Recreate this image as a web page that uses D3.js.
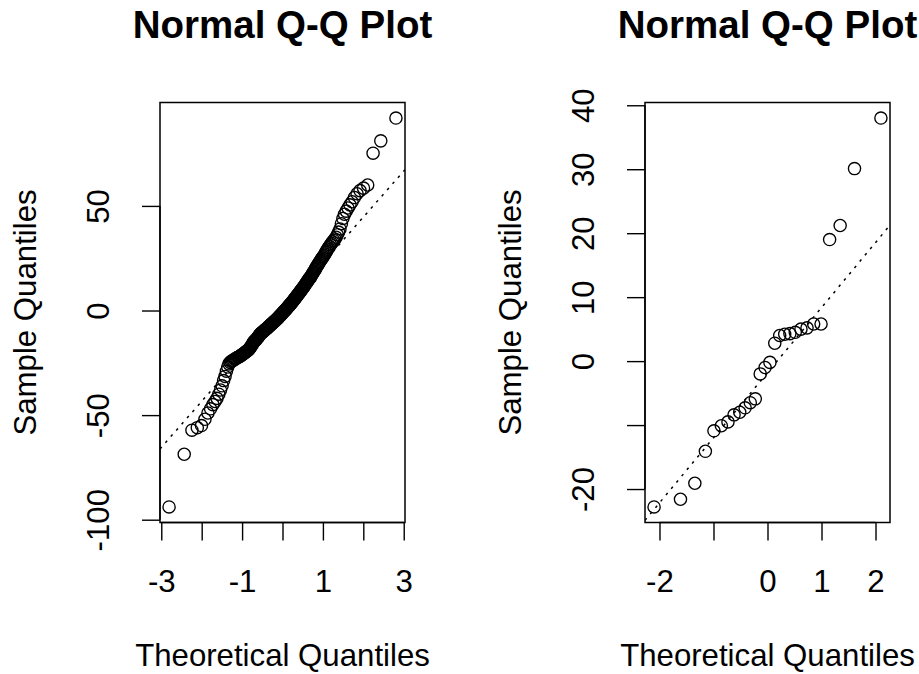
<!DOCTYPE html>
<html><head><meta charset="utf-8">
<script src="https://cdn.jsdelivr.net/npm/d3@7"></script>
<style>
html,body{margin:0;padding:0;background:#fff;}
svg text{font-family:"Liberation Sans",Arial,sans-serif;fill:#000;}
</style></head>
<body>
<svg id="chart" width="919" height="674"></svg>
<script>
// ---- data (sorted sample values) ----
const leftSample = [
-93.9,-68.7,-57.2,-56.0,-55.0,-52.0,-49.0,-47.0,-45.0,-43.5,
-42.0,-40.0,-38.0,-36.0,-33.5,-31.5,-29.0,-27.0,-25.5,-24.8,
-24.3,-24.0,-23.7,-23.3,-23.1,-22.7,-22.5,-22.3,-22.0,-21.8,
-21.4,-21.2,-20.9,-20.7,-20.3,-20.0,-19.8,-19.4,-19.2,-19.0,
-18.6,-18.1,-17.7,-17.3,-16.7,-16.2,-15.6,-15.1,-14.7,-14.4,
-14.2,-13.9,-13.4,-13.1,-12.7,-12.4,-11.9,-11.5,-11.2,-10.9,
-10.7,-10.4,-10.3,-10.0,-9.8,-9.5,-9.2,-9.1,-8.8,-8.6,
-8.4,-8.1,-7.9,-7.6,-7.4,-7.2,-7.0,-6.7,-6.4,-6.3,
-6.1,-5.8,-5.6,-5.3,-5.1,-4.9,-4.7,-4.4,-4.2,-4.0,
-3.7,-3.5,-3.2,-2.9,-2.7,-2.4,-2.2,-1.9,-1.6,-1.4,
-1.1,-0.8,-0.6,-0.3,0.0,0.2,0.5,0.8,1.0,1.3,
1.6,1.9,2.2,2.4,2.8,3.0,3.3,3.7,3.9,4.2,
4.5,4.9,5.2,5.5,5.8,6.2,6.5,6.9,7.2,7.5,
7.9,8.2,8.6,8.9,9.3,9.7,10.0,10.4,10.7,11.1,
11.5,11.9,12.3,12.8,13.2,13.6,14.1,14.5,15.0,15.4,
15.6,16.1,16.6,17.2,17.7,18.3,18.8,19.4,19.9,20.5,
21.1,21.7,22.2,22.8,23.4,24.0,24.6,25.1,25.7,26.3,
27.0,27.8,28.5,29.3,30.0,30.7,31.4,32.1,32.8,33.5,
34.2,35.0,36.2,37.5,39.0,41.5,44.0,46.0,47.5,49.0,
50.5,52.0,54.0,55.8,57.3,58.5,60.0,75.2,81.1,92.0
];
const rightSample = [
-22.8,-21.6,-19.1,-14.1,-10.9,-10.1,-9.5,-8.4,-8.0,-7.3,
-6.5,-5.9,-2.0,-1.0,-0.2,2.8,4.0,4.2,4.3,4.5,
5.0,5.2,5.8,5.8,19.0,21.2,30.1,38.0
];
const titleText = "Normal Q-Q Plot";
const xTitleText = "Theoretical Quantiles";
const yTitleText = "Sample Quantiles";
const leftXTicks = [-3,-2,-1,0,1,2,3];
const leftXLabels = [-3,-1,1,3];
const leftYTicks = [-100,-50,0,50];
const leftYLabels = [-100,-50,0,50];
const rightXTicks = [-2,-1,0,1,2];
const rightXLabels = [-2,0,1,2];
const rightYTicks = [-20,-10,0,10,20,30,40];
const rightYLabels = [-20,0,10,20,30,40];

// ---- normal quantile function (for theoretical quantiles) ----
function qnorm(p){
  const a=[-3.969683028665376e+01,2.209460984245205e+02,-2.759285104469687e+02,1.383577518672690e+02,-3.066479806614716e+01,2.506628277459239e+00];
  const b=[-5.447609879822406e+01,1.615858368580409e+02,-1.556989798598866e+02,6.680131188771972e+01,-1.328068155288572e+01];
  const c=[-7.784894002430293e-03,-3.223964580411365e-01,-2.400758277161838e+00,-2.549732539343734e+00,4.374664141464968e+00,2.938163982698783e+00];
  const d=[7.784695709041462e-03,3.224671290700398e-01,2.445134137142996e+00,3.754408661907416e+00];
  const pl=0.02425, ph=1-pl; let q,r;
  if(p<pl){q=Math.sqrt(-2*Math.log(p));return (((((c[0]*q+c[1])*q+c[2])*q+c[3])*q+c[4])*q+c[5])/((((d[0]*q+d[1])*q+d[2])*q+d[3])*q+1);}
  if(p<=ph){q=p-0.5;r=q*q;return (((((a[0]*r+a[1])*r+a[2])*r+a[3])*r+a[4])*r+a[5])*q/(((((b[0]*r+b[1])*r+b[2])*r+b[3])*r+b[4])*r+1);}
  q=Math.sqrt(-2*Math.log(1-p));return -(((((c[0]*q+c[1])*q+c[2])*q+c[3])*q+c[4])*q+c[5])/((((d[0]*q+d[1])*q+d[2])*q+d[3])*q+1);
}
function ppoints(n){const a=n<=10?3/8:1/2;return d3.range(1,n+1).map(i=>(i-a)/(n+1-2*a));}
function ext(lo,hi){const r=hi-lo;return [lo-0.04*r,hi+0.04*r];}

const svg = d3.select("#chart");
svg.append("rect").attr("width",919).attr("height",674).attr("fill","#fff");

const FS = 31.2, TFS = 38.5, TICK = 18;

function panel(cfg, idx){
  const {sample, box, xTicks, xLabels, yTicks, yLabels} = cfg;
  const ys = sample.slice().sort(d3.ascending);
  const n = ys.length;
  const xs = ppoints(n).map(qnorm);
  const pts = xs.map((x,i)=>({x, y: ys[i]}));
  const x = d3.scaleLinear().domain(ext(xs[0], xs[n-1])).range([box.l, box.r]);
  const y = d3.scaleLinear().domain(ext(ys[0], ys[n-1])).range([box.b, box.t]);
  const g = svg.append("g");

  const cid = "clip"+idx;
  g.append("clipPath").attr("id",cid).append("rect")
    .attr("x",box.l).attr("y",box.t).attr("width",box.r-box.l).attr("height",box.b-box.t);

  // qqline through quartiles
  const yq = [d3.quantileSorted(ys,0.25), d3.quantileSorted(ys,0.75)];
  const xq = [qnorm(0.25), qnorm(0.75)];
  const slope = (yq[1]-yq[0])/(xq[1]-xq[0]);
  const icpt = yq[0]-slope*xq[0];
  const [dx0,dx1] = x.domain();
  g.append("line").attr("clip-path",`url(#${cid})`)
    .attr("x1",x(dx0)).attr("y1",y(icpt+slope*dx0))
    .attr("x2",x(dx1)).attr("y2",y(icpt+slope*dx1))
    .attr("stroke","#000").attr("stroke-width",1.5).attr("stroke-dasharray","2.6,5.6");

  // points
  g.selectAll("circle.pt").data(pts).join("circle").attr("class","pt")
    .attr("cx",d=>x(d.x)).attr("cy",d=>y(d.y)).attr("r",6.1)
    .attr("fill","none").attr("stroke","#000").attr("stroke-width",1.35);

  // box
  g.append("rect").attr("x",box.l).attr("y",box.t).attr("width",box.r-box.l).attr("height",box.b-box.t)
    .attr("fill","none").attr("stroke","#000").attr("stroke-width",1.5);

  // x axis
  const xa = g.append("g").attr("transform",`translate(0,${box.b})`)
    .call(d3.axisBottom(x).tickValues(xTicks).tickSize(TICK).tickSizeOuter(0).tickPadding(29.5)
      .tickFormat(v=>xLabels.includes(v)?String(v):""));
  xa.select(".domain").remove();
  xa.selectAll("line").attr("stroke","#000").attr("stroke-width",1.4);
  xa.selectAll("text").attr("font-size",FS).attr("font-family","'Liberation Sans',Arial,sans-serif").attr("fill","#000");
  xa.append("line").attr("x1",x(xTicks[0])).attr("x2",x(xTicks[xTicks.length-1])).attr("stroke","#000").attr("stroke-width",1.4);

  // y axis
  const ya = g.append("g").attr("transform",`translate(${box.l},0)`)
    .call(d3.axisLeft(y).tickValues(yTicks).tickSize(TICK).tickSizeOuter(0)
      .tickFormat(v=>yLabels.includes(v)?String(v):""));
  ya.select(".domain").remove();
  ya.selectAll("line").attr("stroke","#000").attr("stroke-width",1.4);
  ya.selectAll("text").attr("font-size",FS).attr("font-family","'Liberation Sans',Arial,sans-serif").attr("fill","#000")
    .attr("x",0).attr("dy",0).attr("text-anchor","middle")
    .attr("transform","translate(-51.5,0) rotate(-90)");
  ya.append("line").attr("y1",y(yTicks[0])).attr("y2",y(yTicks[yTicks.length-1])).attr("stroke","#000").attr("stroke-width",1.4);

  const cx = (box.l+box.r)/2, cy = (box.t+box.b)/2;
  g.append("text").attr("x",cx).attr("y",37.5).attr("text-anchor","middle")
    .attr("font-size",TFS).attr("font-weight","bold").text(titleText);
  g.append("text").attr("x",cx).attr("y",666).attr("text-anchor","middle")
    .attr("font-size",FS).text(xTitleText);
  g.append("text").attr("transform",`translate(${box.l-124},${cy}) rotate(-90)`).attr("text-anchor","middle")
    .attr("font-size",FS).text(yTitleText);
}

panel({sample:leftSample, box:{l:160,r:405,t:102.5,b:522.5},
  xTicks:leftXTicks, xLabels:leftXLabels, yTicks:leftYTicks, yLabels:leftYLabels}, 0);
panel({sample:rightSample, box:{l:645,r:890,t:102.5,b:522.5},
  xTicks:rightXTicks, xLabels:rightXLabels, yTicks:rightYTicks, yLabels:rightYLabels}, 1);
</script>
</body></html>
